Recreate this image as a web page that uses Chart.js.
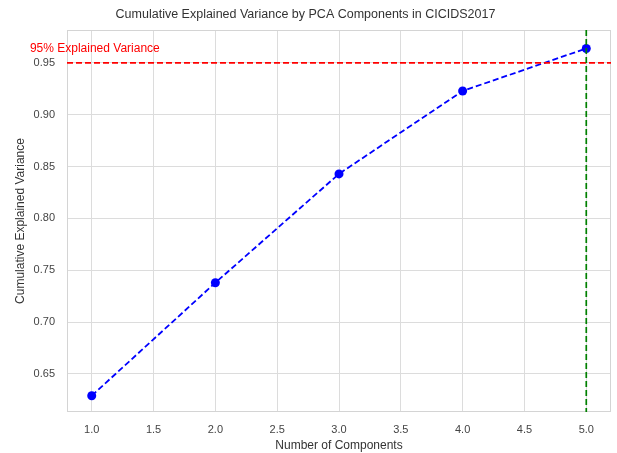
<!DOCTYPE html>
<html>
<head>
<meta charset="utf-8">
<script src="https://cdn.jsdelivr.net/npm/chart.js@4/dist/chart.umd.min.js"></script>
<style>
  html, body { margin: 0; padding: 0; background: #fff; }
  #wrap { width: 617px; height: 453px; }
</style>
</head>
<body>
<div id="wrap"><canvas id="grafico" width="617" height="453"></canvas></div>
<script>
// datos
const componentes = [1, 2, 3, 4, 5];
const varianza = [0.629, 0.738, 0.843, 0.923, 0.964];
const xTicks = [1.0, 1.5, 2.0, 2.5, 3.0, 3.5, 4.0, 4.5, 5.0];
const yTicks = [0.65, 0.70, 0.75, 0.80, 0.85, 0.90, 0.95];
const umbral = 0.95;
const nElegido = 5;
const etiquetaUmbral = "95% Explained Variance";

const FUENTE = "'Liberation Sans', Arial, sans-serif";

// lineas de referencia, marco y texto rojo
const extras = {
  id: "extras",
  beforeDatasetsDraw(chart) {
    const { ctx, chartArea: a } = chart;
    ctx.save();
    ctx.strokeStyle = "#d4d4d4";
    ctx.lineWidth = 1;
    ctx.strokeRect(a.left + 0.5, a.top + 0.5, a.right - a.left - 1, a.bottom - a.top - 1);
    ctx.restore();
  },
  afterDatasetsDraw(chart) {
    const { ctx, chartArea: a, scales } = chart;
    const yU = scales.y.getPixelForValue(umbral);
    const xN = scales.x.getPixelForValue(nElegido);
    ctx.save();
    ctx.lineWidth = 1.7;
    ctx.setLineDash([6, 3]);
    ctx.strokeStyle = "#ff0000";
    ctx.beginPath();
    ctx.moveTo(a.left, yU);
    ctx.lineTo(a.right, yU);
    ctx.stroke();
    ctx.strokeStyle = "#008000";
    ctx.beginPath();
    ctx.moveTo(xN, a.top);
    ctx.lineTo(xN, a.bottom);
    ctx.stroke();
    ctx.setLineDash([]);
    ctx.fillStyle = "#ff0000";
    ctx.font = "12px " + FUENTE;
    ctx.textAlign = "left";
    ctx.textBaseline = "alphabetic";
    ctx.fillText(etiquetaUmbral, scales.x.getPixelForValue(0.5), scales.y.getPixelForValue(0.9605));
    ctx.restore();
  }
};

new Chart(document.getElementById("grafico"), {
  type: "line",
  data: {
    datasets: [{
      label: "Cumulative Explained Variance",
      data: componentes.map((c, i) => ({ x: c, y: varianza[i] })),
      borderColor: "#0000ff",
      backgroundColor: "#0000ff",
      borderWidth: 1.8,
      borderDash: [6, 3],
      pointRadius: 4.5,
      pointHoverRadius: 4.5,
      pointBackgroundColor: "#0000ff",
      pointBorderWidth: 0,
      tension: 0,
      fill: false
    }]
  },
  options: {
    responsive: false,
    animation: false,
    layout: { padding: { left: 0, right: 6, top: 0, bottom: 0 } },
    plugins: {
      legend: { display: false },
      tooltip: { enabled: false },
      title: {
        display: true,
        text: "Cumulative Explained Variance by PCA Components in CICIDS2017",
        color: "#333333",
        font: { family: FUENTE, size: 12.5, weight: "normal" },
        padding: { top: 7, bottom: 8 }
      }
    },
    scales: {
      x: {
        type: "linear",
        min: 0.8,
        max: 5.2,
        afterBuildTicks: s => { s.ticks = xTicks.map(v => ({ value: v })); },
        afterFit: s => { s.height = 41; },
        grid: { color: "#dcdcdc", lineWidth: 1, drawTicks: false },
        border: { display: false },
        ticks: {
          color: "#444444",
          font: { family: FUENTE, size: 11 },
          padding: 11,
          maxRotation: 0,
          callback: v => v.toFixed(1)
        },
        title: {
          display: true,
          text: "Number of Components",
          color: "#333333",
          font: { family: FUENTE, size: 12 },
          padding: { top: 0, bottom: 0 }
        }
      },
      y: {
        min: 0.6133,
        max: 0.9818,
        afterBuildTicks: s => { s.ticks = yTicks.map(v => ({ value: v })); },
        afterFit: s => { s.width = 67; },
        grid: { color: "#dcdcdc", lineWidth: 1, drawTicks: false },
        border: { display: false },
        ticks: {
          color: "#444444",
          font: { family: FUENTE, size: 11 },
          padding: 12,
          callback: v => v.toFixed(2)
        },
        title: {
          display: true,
          text: "Cumulative Explained Variance",
          color: "#333333",
          font: { family: FUENTE, size: 12 },
          padding: { top: 13, bottom: 0 }
        }
      }
    }
  },
  plugins: [extras]
});
</script>
</body>
</html>
